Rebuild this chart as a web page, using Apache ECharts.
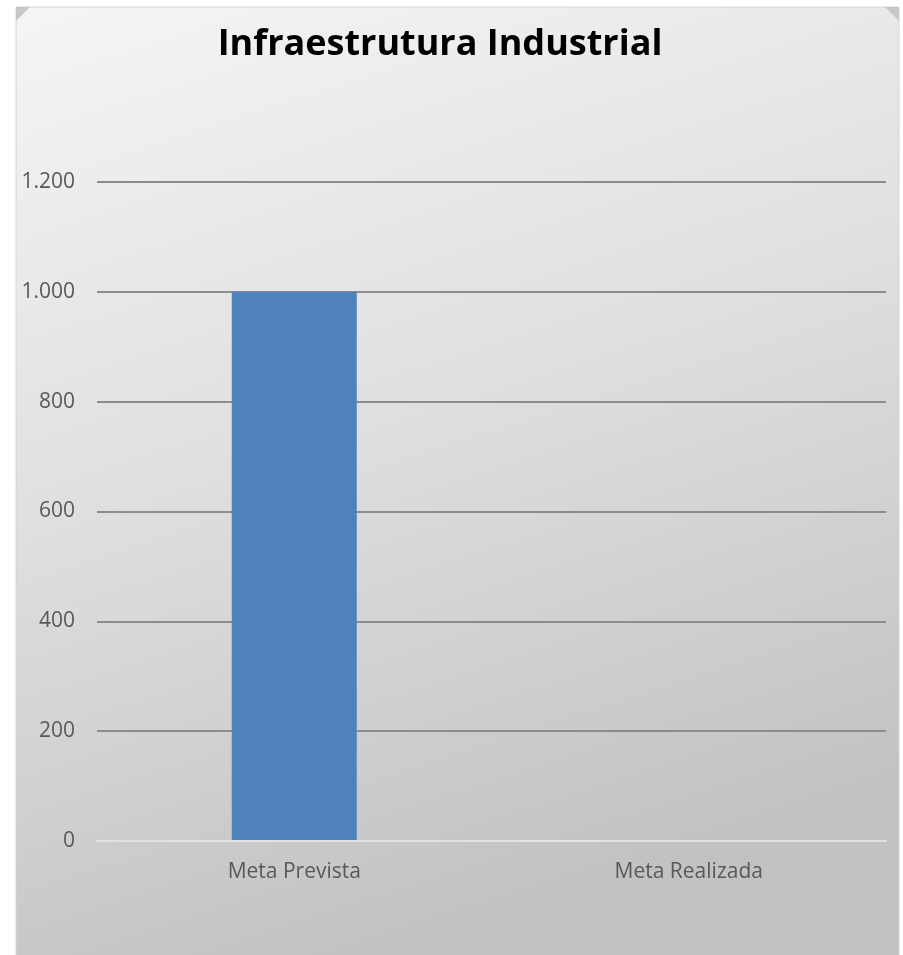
<!DOCTYPE html>
<html>
<head>
<meta charset="utf-8">
<script src="https://cdn.jsdelivr.net/npm/echarts@6/dist/echarts.min.js"></script>
<style>
html,body{margin:0;padding:0;background:#fff;}
#chart{width:903px;height:955px;}
</style>
</head>
<body>
<div id="chart"></div>
<script>
const titleText = 'Infraestrutura Industrial';
const categories = ['Meta Prevista', 'Meta Realizada'];
const values = [1000, 0];
const yMin = 0;
const yMax = 1200;
const yInterval = 200;

function fmt(v) {
  return String(v).replace(/\B(?=(\d{3})+(?!\d))/g, '.');
}

const chart = echarts.init(document.getElementById('chart'), null, {renderer: 'canvas'});
chart.setOption({
  animation: false,
  backgroundColor: '#ffffff',
  graphic: [
    {
      type: 'rect', z: -10, silent: true,
      shape: {x: 16, y: 7, width: 883, height: 960},
      style: {
        fill: new echarts.graphic.LinearGradient(0, 0, 0.35, 1, [
          {offset: 0, color: '#f5f5f5'},
          {offset: 0.5, color: '#dfdfdf'},
          {offset: 1, color: '#c2c2c2'}
        ]),
        stroke: '#d4d4d4', lineWidth: 1
      }
    },
    {
      type: 'polygon', z: -9, silent: true,
      shape: {points: [[16, 7], [30, 7], [16, 21]]},
      style: {fill: '#c8c8c8'}
    },
    {
      type: 'polygon', z: -9, silent: true,
      shape: {points: [[885, 7], [899, 7], [899, 21]]},
      style: {fill: '#c8c8c8'}
    }
  ],
  title: {
    text: titleText,
    left: 435, top: 22, textAlign: 'center',
    textStyle: {
      fontFamily: "'Open Sans', sans-serif",
      fontWeight: 'bold', fontSize: 36, color: '#000'
    }
  },
  grid: {left: 97, right: 17, top: 182, bottom: 114, containLabel: false},
  xAxis: {
    type: 'category',
    data: categories,
    axisLine: {show: true, lineStyle: {color: '#e2e2e2', width: 2}},
    axisTick: {show: false},
    axisLabel: {
      margin: 21, fontSize: 21, color: '#595959',
      fontFamily: "'Open Sans', sans-serif"
    },
    z: 5
  },
  yAxis: {
    type: 'value',
    min: yMin, max: yMax, interval: yInterval,
    axisLine: {show: false},
    axisTick: {show: false},
    splitLine: {lineStyle: {color: '#8c8c8c', width: 2}},
    axisLabel: {
      margin: 22, fontSize: 21, color: '#595959',
      fontFamily: "'Open Sans', sans-serif",
      formatter: fmt
    }
  },
  series: [{
    type: 'bar',
    data: values,
    barWidth: 125,
    itemStyle: {color: '#4f81bd'}
  }]
});
</script>
</body>
</html>
